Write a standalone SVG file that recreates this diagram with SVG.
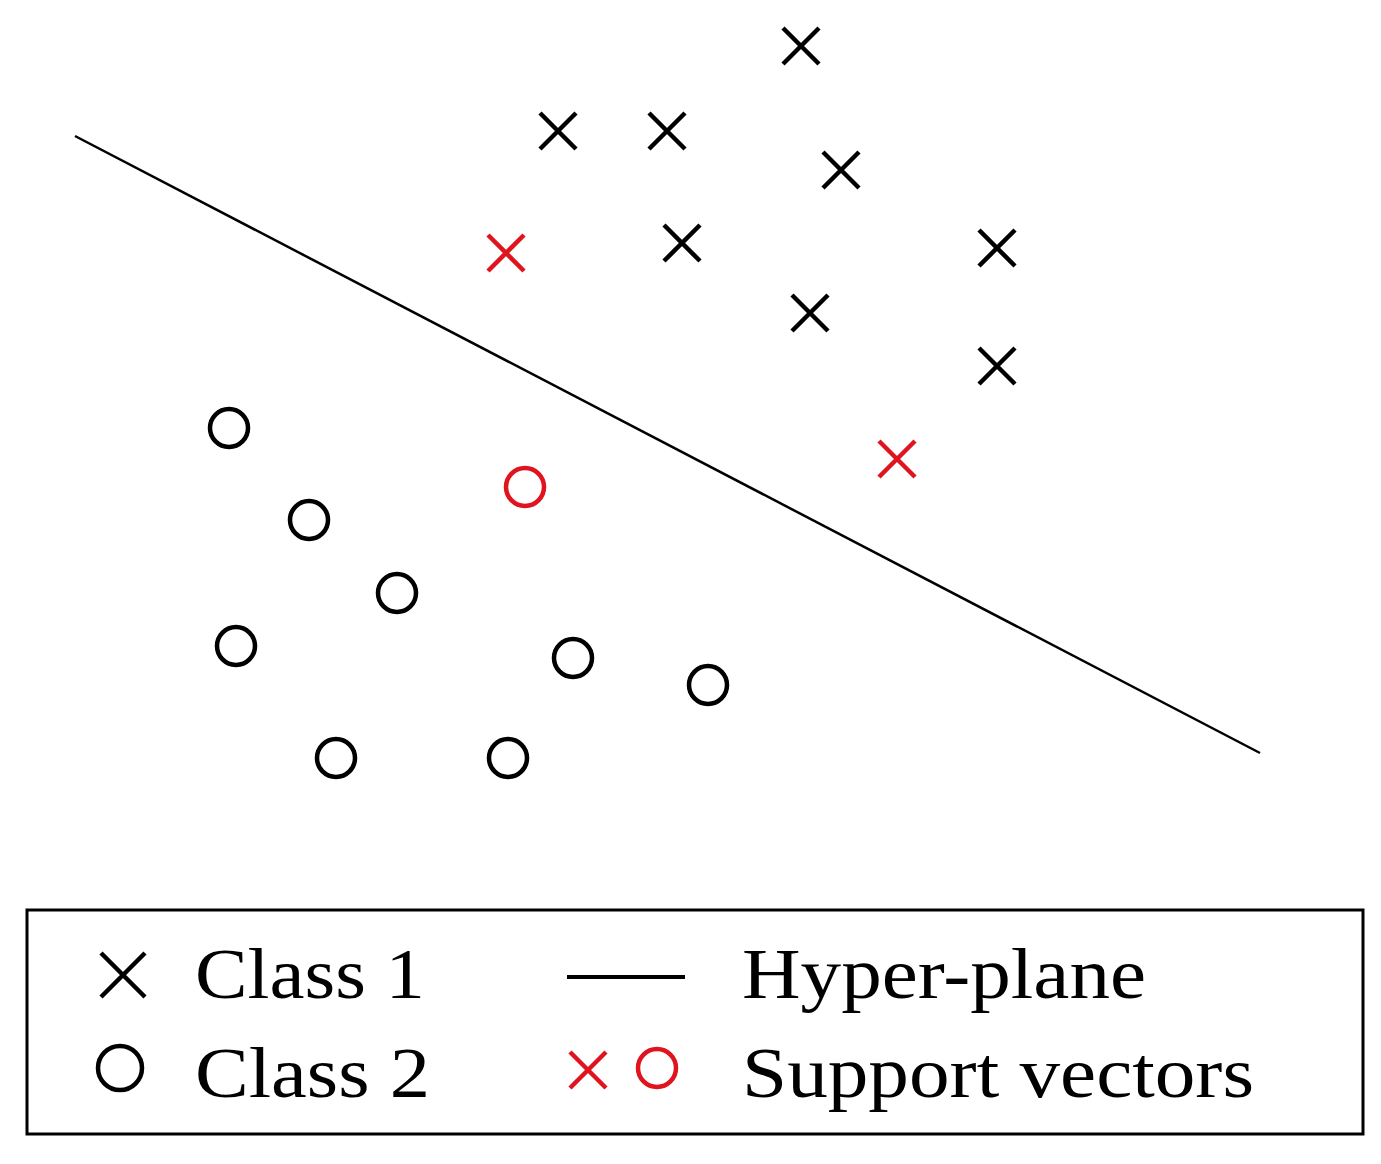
<svg xmlns="http://www.w3.org/2000/svg" width="1381" height="1164" viewBox="0 0 1381 1164">
<style>
.x{stroke:#000;stroke-width:4.5;fill:none}
.o{stroke:#000;stroke-width:4.5;fill:none}
.r{stroke:#e0141e}
.t{font-family:"Liberation Serif",serif;font-size:72px;fill:#000}
</style>
<defs>
<path id="cx" d="M-18,-18L18,18M18,-18L-18,18"/>
</defs>
<rect width="1381" height="1164" fill="#fff"/>
<g id="connectors"><line x1="75" y1="136" x2="1260" y2="753" stroke="#000" stroke-width="2.5"/></g>
<g id="class1" class="x">
<use href="#cx" x="801" y="46"/><use href="#cx" x="558" y="131"/><use href="#cx" x="667" y="131"/>
<use href="#cx" x="841" y="170"/><use href="#cx" x="682" y="243"/><use href="#cx" x="997" y="248"/>
<use href="#cx" x="810" y="313"/><use href="#cx" x="997" y="366"/>
<use href="#cx" x="506" y="253" class="r"/><use href="#cx" x="897" y="459" class="r"/>
</g>
<g id="class2" class="o">
<circle cx="229" cy="428" r="19"/><circle cx="309" cy="520" r="19"/><circle cx="397" cy="593" r="19"/>
<circle cx="236" cy="646" r="19"/><circle cx="573" cy="658" r="19"/><circle cx="708" cy="685" r="19"/>
<circle cx="336" cy="758" r="19"/><circle cx="508" cy="758" r="19"/>
<circle cx="525" cy="487" r="19" class="r"/>
</g>
<g id="legend">
<rect x="27" y="910" width="1336" height="224" fill="none" stroke="#000" stroke-width="3"/>
<path d="M101,953L145,997M145,953L101,997" class="x"/>
<circle cx="120" cy="1068" r="22" class="o"/>
<line x1="567" y1="977" x2="685" y2="977" stroke="#000" stroke-width="4"/>
<path d="M570,1052L606,1088M606,1052L570,1088" class="x r"/>
<circle cx="657" cy="1068" r="19" class="o r"/>
<text class="t" x="195" y="998" textLength="230" lengthAdjust="spacingAndGlyphs">Class 1</text>
<text class="t" x="195" y="1097" textLength="235" lengthAdjust="spacingAndGlyphs">Class 2</text>
<text class="t" x="742" y="998" textLength="404" lengthAdjust="spacingAndGlyphs">Hyper-plane</text>
<text class="t" x="742" y="1097" textLength="512" lengthAdjust="spacingAndGlyphs">Support vectors</text>
</g>
</svg>
